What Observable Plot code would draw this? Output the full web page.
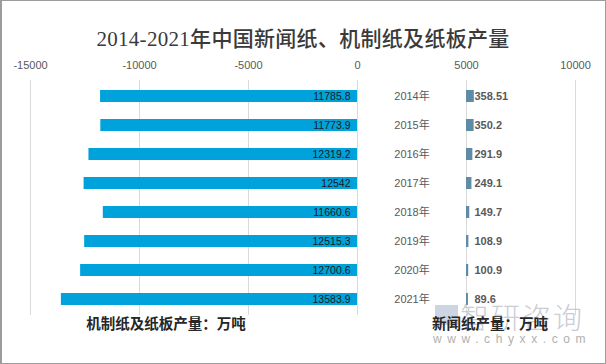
<!DOCTYPE html>
<html>
<head>
<meta charset="utf-8">
<script src="https://cdn.jsdelivr.net/npm/d3@7"></script>
<script src="https://cdn.jsdelivr.net/npm/@observablehq/plot@0.6"></script>
<style>
  body { margin: 0; background: #fff; }
  #wrap { position: relative; width: 606px; height: 364px; overflow: hidden; background: #fff; font-family: "Noto Sans CJK SC", "Liberation Sans", sans-serif; }
  #frame { position: absolute; left: 0; top: 0; width: 606px; height: 364px; box-sizing: border-box; border: 1px solid #9c9c9c; border-left-width: 2px; pointer-events: none; }
  #title { position: absolute; left: 0; width: 606px; top: 25px; text-align: center; font-family: "Liberation Serif", "Noto Sans CJK SC", serif; font-size: 21px; line-height: 28px; color: #3a3a3a; font-weight: 500; letter-spacing: 0.3px; }
  #chart { position: absolute; left: 0; top: 50px; }
  .blab { position: absolute; top: 314px; font-size: 14.5px; line-height: 18px; font-weight: 700; color: #262626; transform: translateX(-50%); white-space: nowrap; }
  #wm1 { position: absolute; left: 460px; top: 301px; font-size: 29px; line-height: 30px; color: #b8bec8; opacity: 0.75; letter-spacing: 2px; font-weight: 300; }
  #wmicon { position: absolute; left: 435px; top: 305px; width: 23px; height: 20px; background: #b8c2d6; opacity: 0.7; }
  #wm2 { position: absolute; left: 433px; top: 332px; font-size: 12px; line-height: 14px; color: #b0b0b0; letter-spacing: 5.6px; font-family: "Liberation Sans", sans-serif; }
</style>
</head>
<body>
<div id="wrap">
  <div id="title">2014-2021年中国新闻纸、机制纸及纸板产量</div>
  <div id="chart"></div>
  <div id="wmicon"></div>
  <div id="wm1">智研咨询</div>
  <div id="wm2">www.chyxx.com</div>
  <div class="blab" id="lab1" style="left:166px">机制纸及纸板产量：万吨</div>
  <div class="blab" id="lab2" style="left:490px">新闻纸产量：万吨</div>
  <div id="frame"></div>
</div>
<script>
const years = ["2014年","2015年","2016年","2017年","2018年","2019年","2020年","2021年"];
const paperboard = [11785.8, 11773.9, 12319.2, 12542, 11660.6, 12515.3, 12700.6, 13583.9];
const newsprint = [358.51, 350.2, 291.9, 249.1, 149.7, 108.9, 100.9, 89.6];
const tickValues = [-15000, -10000, -5000, 0, 5000, 10000];
const newsBase = 5000;     // newsprint bars start at the 5000 gridline
const yearLabelX = 2500;   // year labels sit between the two groups

const rows = years.map((y, i) => ({year: y, board: paperboard[i], news: newsprint[i]}));

const chart = Plot.plot({
  width: 606,
  height: 270,
  marginLeft: 30,
  marginRight: 31,
  marginTop: 30,
  marginBottom: 5,
  x: {domain: [-15000, 10000], ticks: tickValues},
  y: {domain: years, paddingInner: 0.59, paddingOuter: 0.295, axis: null},
  style: {fontFamily: "'Liberation Sans', 'Noto Sans CJK SC', sans-serif", fontSize: "11px", color: "#595959", background: "transparent"},
  marks: [
    Plot.gridX(tickValues, {stroke: "#d9d9d9", strokeOpacity: 1}),
    Plot.axisX({anchor: "top", ticks: tickValues, tickFormat: d => String(d), tickSize: 0, tickPadding: 12, fill: "#595959", fontSize: 11}),
    Plot.barX(rows, {y: "year", x1: d => -d.board, x2: 0, fill: "#00A2DB"}),
    Plot.barX(rows, {y: "year", x1: newsBase, x2: d => newsBase + d.news, fill: "#5E8BA6"}),
    Plot.text(rows, {y: "year", x: 0, text: d => String(d.board), textAnchor: "end", dx: -7, fill: "#1a1a1a", fontSize: 10.5}),
    Plot.text(rows, {y: "year", x: newsBase, text: d => String(d.news), textAnchor: "start", dx: 8, fill: "#595959", fontSize: 11, fontWeight: "bold"}),
    Plot.text(rows, {y: "year", x: yearLabelX, text: "year", textAnchor: "middle", fill: "#595959", fontSize: 11})
  ]
});
document.getElementById("chart").appendChild(chart);
</script>
</body>
</html>
